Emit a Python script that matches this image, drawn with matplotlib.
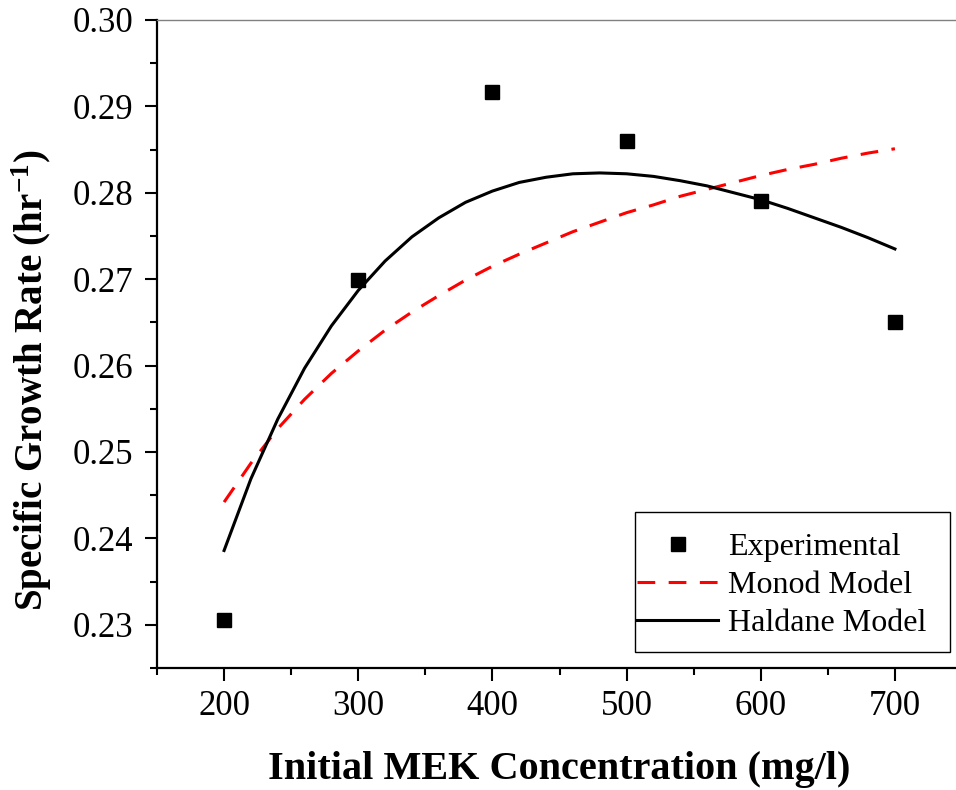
import numpy as np
import matplotlib
matplotlib.use("Agg")
import matplotlib.pyplot as plt
from matplotlib.patches import Rectangle
from matplotlib.ticker import MultipleLocator, FormatStrFormatter

plt.rcParams.update({
    "font.family": "serif",
    "font.serif": ["Liberation Serif", "DejaVu Serif"],
    "mathtext.fontset": "custom",
    "mathtext.rm": "Liberation Serif",
    "mathtext.bf": "Liberation Serif:bold",
    "mathtext.it": "Liberation Serif:italic",
})

# Experimental points
conc_exp = [200, 300, 400, 500, 600, 700]
mu_exp = [0.2305, 0.2699, 0.2917, 0.2860, 0.2791, 0.2650]

# Model curves
conc_model = [200, 220, 240, 260, 280, 300, 320, 340, 360, 380, 400, 420, 440,
              460, 480, 500, 520, 540, 560, 580, 600, 620, 640, 660, 680, 700]
mu_monod = [0.2442, 0.2487, 0.2527, 0.2561, 0.2591, 0.2617, 0.2641, 0.2662,
            0.2681, 0.2699, 0.2715, 0.2729, 0.2742, 0.2755, 0.2766, 0.2777,
            0.2786, 0.2796, 0.2804, 0.2812, 0.2820, 0.2827, 0.2833, 0.2840,
            0.2846, 0.2851]
mu_haldane = [0.2386, 0.2469, 0.2538, 0.2597, 0.2646, 0.2687, 0.2721, 0.2749,
              0.2771, 0.2789, 0.2802, 0.2812, 0.2818, 0.2822, 0.2823, 0.2822,
              0.2819, 0.2814, 0.2808, 0.2800, 0.2792, 0.2782, 0.2771, 0.2760,
              0.2748, 0.2735]

W, H = 956, 790
fig = plt.figure(figsize=(W / 100, H / 100), dpi=100)
ax = fig.add_axes([157 / W, 1 - 668 / H, (962 - 157) / W, (668 - 20) / H])

ax.plot(conc_exp, mu_exp, linestyle="none", marker="s", markersize=9.5,
        color="black", label="Experimental")
ax.plot(conc_model, mu_monod, color="#ff0000", linewidth=2.2,
        linestyle=(0, (5.8, 4.4)), label="Monod Model")
ax.plot(conc_model, mu_haldane, color="black", linewidth=2.2,
        label="Haldane Model")

ax.set_xlim(150, 750)
ax.set_ylim(0.225, 0.30)
ax.set_xticks([200, 300, 400, 500, 600, 700])
ax.xaxis.set_minor_locator(MultipleLocator(50))
ax.yaxis.set_major_locator(MultipleLocator(0.01))
ax.yaxis.set_minor_locator(MultipleLocator(0.005))
ax.yaxis.set_major_formatter(FormatStrFormatter("%.2f"))

for side in ["left", "bottom"]:
    ax.spines[side].set_linewidth(1.6)
ax.spines["right"].set_visible(False)
ax.spines["top"].set_color("#808080")
ax.spines["top"].set_linewidth(1.0)

ax.tick_params(which="major", direction="out", length=9, width=1.5,
               labelsize=25, pad=7)
ax.tick_params(which="minor", direction="out", length=5, width=1.5)
ax.tick_params(axis="y", which="major", pad=8)

ax.set_xlabel("Initial MEK Concentration (mg/l)", fontsize=29,
              fontweight="bold", labelpad=20)
ax.set_ylabel(r"Specific Growth Rate (hr$^{\mathbf{-1}}$)", fontsize=28,
              fontweight="bold")
ax.yaxis.set_label_coords(-0.128, 0.444)

# legend entries without frame, box drawn separately to get the uneven padding
leg = ax.legend(loc="upper left", bbox_to_anchor=(637 / W, 1 - 533 / H),
                bbox_transform=fig.transFigure, borderaxespad=0,
                fontsize=23, frameon=False, handlelength=2.55,
                handletextpad=0.3, borderpad=0, labelspacing=0.27)
fig.patches.append(Rectangle((635 / W, 1 - 652 / H), 315 / W, 140 / H,
                             transform=fig.transFigure, fill=False,
                             edgecolor="black", linewidth=1.0, zorder=5))

fig.savefig("out.png", dpi=100)
